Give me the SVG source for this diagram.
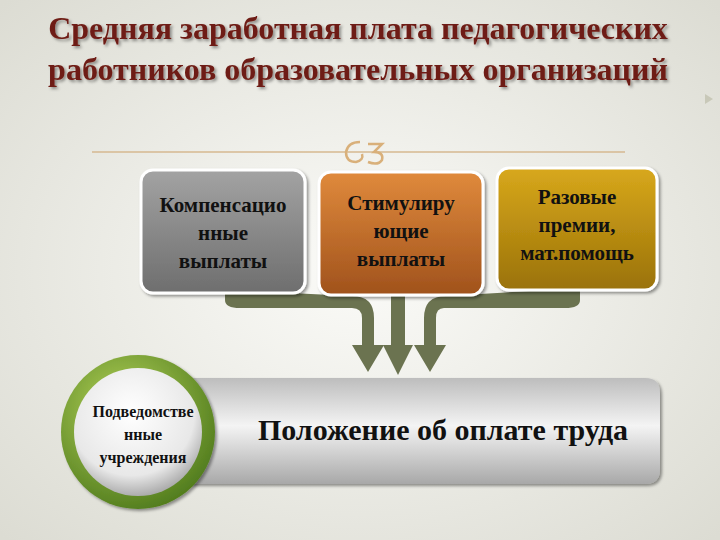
<svg xmlns="http://www.w3.org/2000/svg" width="720" height="540" viewBox="0 0 720 540">
<defs>
<style>
.t{font-family:"Liberation Serif","Times New Roman","DejaVu Serif",serif;font-weight:bold;fill:#111;text-anchor:middle}
.h{font-family:"Liberation Serif","Times New Roman","DejaVu Serif",serif;font-weight:bold;font-size:32px;fill:#6e1c14;text-anchor:middle}
.box{stroke:#fff;stroke-width:3}
</style>
<radialGradient id="bg" cx="0.5" cy="0.5" r="0.7"><stop offset="0" stop-color="#fbfbf8"/><stop offset="1" stop-color="#dcdcd3"/></radialGradient>
<linearGradient id="g1" x1="0" y1="0" x2="0" y2="1"><stop offset="0" stop-color="#a3a3a3"/><stop offset="1" stop-color="#6e6e6e"/></linearGradient>
<linearGradient id="g2" x1="0" y1="0" x2="0" y2="1"><stop offset="0" stop-color="#e08a3c"/><stop offset="1" stop-color="#a0521c"/></linearGradient>
<linearGradient id="g3" x1="0" y1="0" x2="0" y2="1"><stop offset="0" stop-color="#d8a81c"/><stop offset="1" stop-color="#9a7208"/></linearGradient>
<linearGradient id="bar" x1="0" y1="0" x2="0" y2="1"><stop offset="0" stop-color="#bdbdbd"/><stop offset="0.45" stop-color="#f4f4f4"/><stop offset="1" stop-color="#a8a8a8"/></linearGradient>
<radialGradient id="ring" cx="0.4" cy="0.35" r="0.7"><stop offset="0" stop-color="#b4d45a"/><stop offset="1" stop-color="#4f7a1c"/></radialGradient>
<radialGradient id="inner" cx="0.45" cy="0.35" r="0.7"><stop offset="0" stop-color="#ffffff"/><stop offset="0.7" stop-color="#e8e8e8"/><stop offset="1" stop-color="#9a9a9a"/></radialGradient>
<filter id="sh" x="-10%" y="-10%" width="130%" height="130%"><feDropShadow dx="2" dy="2" stdDeviation="1.5" flood-color="#000" flood-opacity="0.4"/></filter>
</defs>
<rect width="720" height="540" fill="url(#bg)"/>
<path d="M705 94 l8 5 l-8 5 z" fill="#c8c8b8"/>
<g id="title">
<text class="h" x="358" y="39" filter="url(#sh)">Средняя заработная плата педагогических</text>
<text class="h" x="358" y="80" filter="url(#sh)">работников образовательных организаций</text>
</g>
<g id="ornament" fill="none" stroke="#d9b07a" stroke-width="2.5">
<line x1="92" y1="152" x2="625" y2="152" stroke="#d6b890" stroke-width="1.5"/>
<path d="M360 142 Q348 142 346 152 Q346 162 356 162 Q364 160 362 154"/>
<path d="M368 144 L382 144 L374 152 Q384 152 382 160 Q378 166 368 162"/>
</g>
<g id="connectors" fill="#6b7350">
<path d="M225 290 L225 300 Q225 308 240 308 L352 308 Q362 308 362 318 L362 345 L352 345 L368 372 L384 345 L374 345 L374 318 Q374 296 352 296 Z"/>
<rect x="391" y="295" width="14" height="50"/>
<path d="M383 345 L398 375 L413 345 Z"/>
<path d="M580 288 L580 300 Q580 308 565 308 L444 308 Q436 308 436 318 L436 345 L446 345 L430 372 L414 345 L424 345 L424 318 Q424 296 446 296 Z"/>
</g>
<g id="n1"><rect class="box" x="141" y="170" width="164" height="123" rx="12" fill="url(#g1)" filter="url(#sh)"/>
<text class="t" x="223" y="212" font-size="21">Компенсацио</text><text class="t" x="223" y="240" font-size="21">нные</text><text class="t" x="223" y="268" font-size="21">выплаты</text></g>
<g id="n2"><rect class="box" x="319" y="172" width="164" height="123" rx="12" fill="url(#g2)" filter="url(#sh)"/>
<text class="t" x="401" y="210" font-size="21">Стимулиру</text><text class="t" x="401" y="238" font-size="21">ющие</text><text class="t" x="401" y="266" font-size="21">выплаты</text></g>
<g id="n3"><rect class="box" x="497" y="168" width="160" height="122" rx="12" fill="url(#g3)" filter="url(#sh)"/>
<text class="t" x="577" y="204" font-size="21">Разовые</text><text class="t" x="577" y="232" font-size="21">премии,</text><text class="t" x="577" y="260" font-size="21">мат.помощь</text></g>
<g id="bar-node"><path d="M190 378 L645 378 Q660 378 660 393 L660 469 Q660 484 645 484 L190 484 Z" fill="url(#bar)" filter="url(#sh)"/>
<text class="t" x="443" y="440" font-size="30">Положение об оплате труда</text></g>
<g id="circle-node"><circle cx="138" cy="432" r="77" fill="url(#ring)" filter="url(#sh)"/>
<circle cx="138" cy="432" r="64" fill="url(#inner)"/>
<text class="t" x="143" y="417" font-size="16">Подведомстве</text><text class="t" x="143" y="440" font-size="16">нные</text><text class="t" x="143" y="463" font-size="16">учреждения</text></g>
</svg>
